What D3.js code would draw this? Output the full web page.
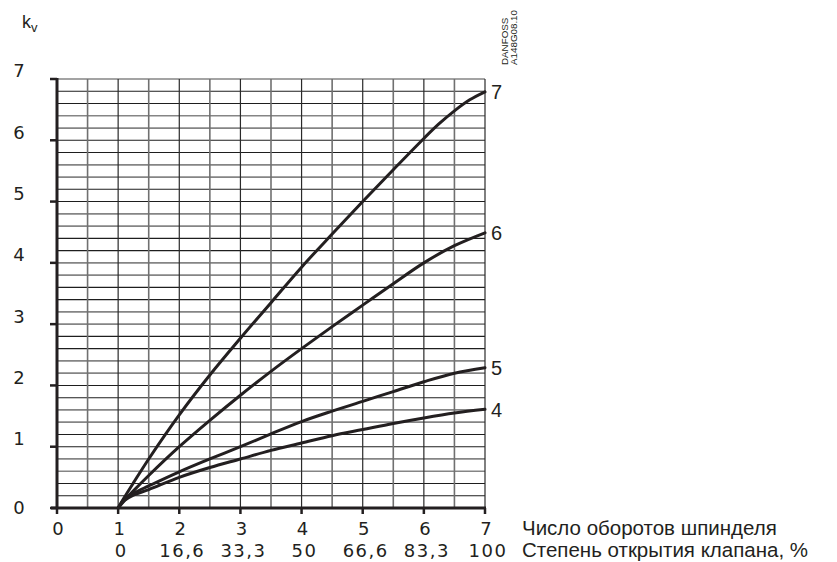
<!DOCTYPE html>
<html>
<head>
<meta charset="utf-8">
<script src="https://cdn.jsdelivr.net/npm/d3@7"></script>
<style>
  html, body { margin: 0; padding: 0; background: #fff; }
  svg { display: block; }
</style>
</head>
<body>
<svg id="chart" width="837" height="562"></svg>
<script>
// ---- data ----
const turnTicks = [0, 1, 2, 3, 4, 5, 6, 7];
const openingLabels = ["0", "16,6", "33,3", "50", "66,6", "83,3", "100"]; // at turns 1..7
const kvTicks = [0, 1, 2, 3, 4, 5, 6, 7];
const seriesNames = ["7", "6", "5", "4"];
const curve7 = [[1,0],[1.1,0.17],[1.25,0.41],[1.5,0.8],[2,1.52],[2.5,2.17],[3,2.77],[3.5,3.35],[4,3.93],[4.5,4.47],[5,5.0],[5.5,5.52],[6,6.03],[6.25,6.27],[6.5,6.48],[6.75,6.66],[7,6.79]];
const curve6 = [[1,0],[1.1,0.12],[1.25,0.28],[1.5,0.53],[2,1.0],[2.5,1.43],[3,1.84],[3.5,2.23],[4,2.6],[4.5,2.96],[5,3.31],[5.5,3.66],[6,4.0],[6.5,4.28],[7,4.49]];
const curve5 = [[1,0],[1.1,0.14],[1.25,0.24],[1.5,0.36],[2,0.59],[2.5,0.8],[3,1.0],[3.5,1.21],[4,1.41],[4.5,1.58],[5,1.74],[5.5,1.9],[6,2.06],[6.5,2.2],[7,2.29]];
const curve4 = [[1,0],[1.1,0.12],[1.25,0.21],[1.5,0.3],[2,0.5],[2.5,0.66],[3,0.8],[3.5,0.94],[4,1.06],[4.5,1.18],[5,1.28],[5.5,1.38],[6,1.47],[6.5,1.55],[7,1.61]];
const seriesValues = [curve7, curve6, curve5, curve4];
const xTitle1 = "Число оборотов шпинделя";
const xTitle2 = "Степень открытия клапана, %";
const codeLines = ["DANFOSS", "A148G08.10"];

// ---- layout ----
const svg = d3.select("#chart");
const x = d3.scaleLinear().domain([0, 7]).range([57, 485]);
const y = d3.scaleLinear().domain([0, 7]).range([508, 79]);
const ink = "#231f20";
const numFont = "'DejaVu Sans', sans-serif";
const txtFont = "'Liberation Sans', Arial, sans-serif";

// grid
const g = svg.append("g");
const hVals = d3.range(0, 36).map(i => i * 0.2);
g.selectAll("line.h").data(hVals).join("line")
  .attr("x1", x(0)).attr("x2", x(7))
  .attr("y1", d => y(d)).attr("y2", d => y(d))
  .attr("stroke", (d, i) => (i % 4 === 0 || i % 4 === 3) ? "#858585" : "#1e1e1e")
  .attr("stroke-width", (d, i) => (i % 4 === 0 || i % 4 === 3) ? 1.7 : 1.1);
const vVals = d3.range(0, 15).map(i => i * 0.5);
g.selectAll("line.v").data(vVals).join("line")
  .attr("x1", d => x(d)).attr("x2", d => x(d))
  .attr("y1", y(7)).attr("y2", y(0))
  .attr("stroke", (d, i) => i % 2 === 0 ? "#2a2a2a" : "#707070")
  .attr("stroke-width", (d, i) => i % 2 === 0 ? 1.2 : 1.6);

// axes
svg.append("line").attr("x1", x(0)).attr("x2", x(0)).attr("y1", y(7) - 1).attr("y2", y(0) + 1)
  .attr("stroke", ink).attr("stroke-width", 3);
svg.append("line").attr("x1", x(0) - 6).attr("x2", x(7) + 1).attr("y1", y(0)).attr("y2", y(0))
  .attr("stroke", ink).attr("stroke-width", 3);
svg.selectAll("line.yt").data(kvTicks).join("line")
  .attr("x1", x(0) - 7).attr("x2", x(0)).attr("y1", d => y(d)).attr("y2", d => y(d))
  .attr("stroke", ink).attr("stroke-width", 2.5);
svg.selectAll("line.xt").data(turnTicks).join("line")
  .attr("x1", d => x(d)).attr("x2", d => x(d)).attr("y1", y(0)).attr("y2", y(0) + 6)
  .attr("stroke", ink).attr("stroke-width", 2.5);

// y labels
svg.selectAll("text.yl").data(kvTicks).join("text")
  .attr("x", 19).attr("y", d => y(d) - (d === 0 ? 0 : 8))
  .attr("dy", "0.36em").attr("text-anchor", "middle")
  .attr("font-family", numFont).attr("font-size", 18).attr("fill", ink)
  .text(d => d);

// x labels row 1
svg.selectAll("text.xl").data(turnTicks).join("text")
  .attr("x", d => x(d) + 1).attr("y", 535)
  .attr("text-anchor", "middle")
  .attr("font-family", numFont).attr("font-size", 18).attr("fill", ink)
  .text(d => d);
// x labels row 2
svg.selectAll("text.pl").data(openingLabels).join("text")
  .attr("x", (d, i) => x(i + 1) + 3).attr("y", 557)
  .attr("text-anchor", "middle")
  .attr("font-family", numFont).attr("font-size", 18).attr("letter-spacing", 1.5).attr("fill", ink)
  .text(d => d);

// titles
svg.append("text").attr("x", 522).attr("y", 535)
  .attr("font-family", txtFont).attr("font-size", 20.5).attr("fill", ink).text(xTitle1);
svg.append("text").attr("x", 522).attr("y", 557)
  .attr("font-family", txtFont).attr("font-size", 20.5).attr("fill", ink).text(xTitle2);

// kv label
const kv = svg.append("text").attr("x", 22).attr("y", 28)
  .attr("font-family", txtFont).attr("font-size", 18).attr("fill", ink);
kv.append("tspan").text("k");
kv.append("tspan").attr("font-size", 13).attr("dy", 4).text("v");

// code label
const code = svg.append("text").attr("transform", "translate(508,65) rotate(-90)")
  .attr("font-family", txtFont).attr("font-size", 9.8).attr("fill", ink);
code.selectAll("tspan").data(codeLines).join("tspan")
  .attr("x", 0).attr("dy", (d, i) => i === 0 ? 0 : 8.5).text(d => d);

// curves
const line = d3.line().x(d => x(d[0])).y(d => y(d[1])).curve(d3.curveCatmullRom.alpha(0.5));
svg.selectAll("path.c").data(seriesValues).join("path")
  .attr("d", line).attr("fill", "none").attr("stroke", ink)
  .attr("stroke-width", 3).attr("stroke-linecap", "round");

// curve labels
svg.selectAll("text.cl").data(seriesValues).join("text")
  .attr("x", d => x(d[d.length - 1][0]) + 6)
  .attr("y", d => y(d[d.length - 1][1]))
  .attr("dy", "0.36em")
  .attr("font-family", txtFont).attr("font-size", 20).attr("fill", ink)
  .text((d, i) => seriesNames[i]);
</script>
</body>
</html>
